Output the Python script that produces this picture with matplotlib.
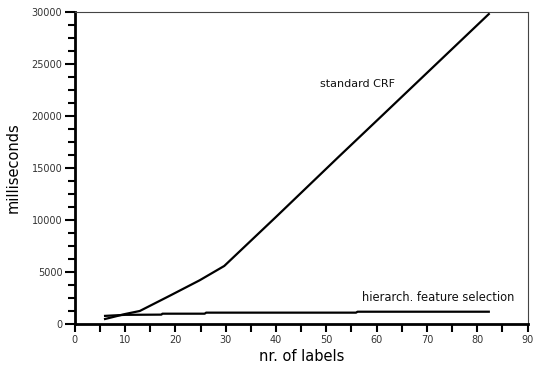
import matplotlib
matplotlib.use("Agg")
from matplotlib import pyplot as plt
from matplotlib.ticker import MultipleLocator

crf_labels = [6, 10, 12.9, 18.8, 24.8, 29.7, 40, 52.5, 61, 82.3]
crf_ms = [480, 960, 1250, 2700, 4200, 5580, 10300, 16100, 20000, 29800]

hier_labels = [6, 10, 17.2, 17.4, 25.8, 26.1, 55.9, 56.2, 82.3]
hier_ms = [780, 880, 900, 990, 990, 1090, 1090, 1180, 1180]


def draw_graph():
    fig = plt.figure(figsize=(5.35, 3.68), dpi=100)
    ax = fig.add_axes([0.140, 0.1196, 0.846, 0.8478])

    ax.plot(crf_labels, crf_ms, color="black", lw=1.6)
    ax.plot(hier_labels, hier_ms, color="black", lw=1.6)

    ax.text(48.8, 23100, "standard CRF", fontsize=8, va="center", color="#111111")
    ax.text(57.1, 2500, "hierarch. feature selection", fontsize=8.3, va="center", color="#111111")

    ax.set_xlim(0, 90)
    ax.set_ylim(0, 30000)
    ax.xaxis.set_major_locator(MultipleLocator(10))
    ax.xaxis.set_minor_locator(MultipleLocator(5))
    ax.yaxis.set_major_locator(MultipleLocator(5000))
    ax.yaxis.set_minor_locator(MultipleLocator(1250))

    ax.tick_params(which="both", direction="out", width=1.5, colors="black",
                   labelsize=7, labelcolor="#333333", pad=2)
    ax.tick_params(axis="x", which="both", length=6)
    ax.tick_params(axis="y", which="major", length=7)
    ax.tick_params(axis="y", which="minor", length=5)

    ax.spines["left"].set_linewidth(2)
    ax.spines["bottom"].set_linewidth(2)
    ax.spines["top"].set_linewidth(0.8)
    ax.spines["right"].set_linewidth(0.8)
    ax.spines["top"].set_color("#444444")
    ax.spines["right"].set_color("#444444")

    ax.set_xlabel("nr. of labels", fontsize=10.5, labelpad=3)
    ax.set_ylabel("milliseconds", fontsize=10.5, labelpad=8)

    fig.savefig("out.png", dpi=100)


if __name__ == "__main__":
    draw_graph()
